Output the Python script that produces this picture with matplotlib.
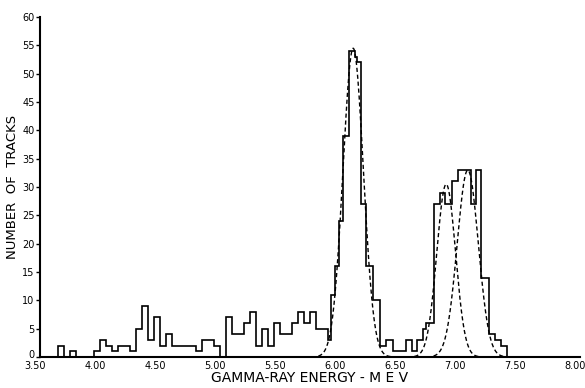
import numpy as np
import matplotlib
matplotlib.use("Agg")
import matplotlib.pyplot as plt
from matplotlib.transforms import ScaledTranslation

# histogram of gamma-ray energies (bin edges in MeV, counts per bin)
edges = [3.65, 3.70, 3.75, 3.80, 3.85, 3.90, 3.95, 4.00, 4.05, 4.10,
         4.15, 4.20, 4.25, 4.30, 4.35, 4.40, 4.45, 4.50, 4.55, 4.60,
         4.65, 4.70, 4.75, 4.80, 4.85, 4.90, 4.95, 5.00, 5.05, 5.10,
         5.15, 5.20, 5.25, 5.30, 5.35, 5.40, 5.45, 5.50, 5.55, 5.60,
         5.65, 5.70, 5.75, 5.80, 5.85, 5.90, 5.925, 5.96, 5.99, 6.025,
         6.075, 6.125, 6.14, 6.175, 6.22, 6.275, 6.33, 6.38, 6.44, 6.55,
         6.60, 6.64, 6.69, 6.72, 6.78, 6.83, 6.875, 6.93, 6.98, 7.09,
         7.13, 7.175, 7.24, 7.295, 7.345, 7.39]
counts = [2, 0, 1, 0, 0, 0, 1, 3, 2, 1,
          2, 2, 1, 5, 9, 3, 7, 2, 4, 2,
          2, 2, 2, 1, 3, 3, 2, 0, 7, 4,
          4, 6, 8, 2, 5, 2, 6, 4, 4, 6,
          8, 6, 8, 5, 5, 3, 11, 16, 24, 39,
          54, 53, 52, 27, 16, 10, 2, 3, 1, 3,
          1, 3, 5, 6, 27, 29, 27, 31, 33, 27,
          33, 14, 4, 3, 2]

# dashed gaussian fits: centre (MeV), height (tracks), width (MeV), x range
fit_centres = [6.11, 6.885, 7.065]
fit_heights = [54.5, 30.5, 33.0]
fit_sigmas = [0.085, 0.078, 0.088]
fit_lo = [5.82, 6.62, 6.78]
fit_hi = [6.48, 7.16, 7.37]

x_ticks = [3.5, 4.0, 4.5, 5.0, 5.5, 6.0, 6.5, 7.0, 7.5, 8.0]
x_tick_labels = ["3.50", "4.00", "4.50", "5.00", "5.50", "6.00", "6.50", "7.00", "7.50", "8.00"]
y_ticks = [0, 5, 10, 15, 20, 25, 30, 35, 40, 45, 50, 55, 60]

fig = plt.figure(figsize=(5.85, 3.88), dpi=100)
ax = fig.add_axes([0.0684, 0.0799, 0.923, 0.876])

ax.stairs(counts, edges, color="black", linewidth=1.2, baseline=0)

for c, h, s, lo, hi in zip(fit_centres, fit_heights, fit_sigmas, fit_lo, fit_hi):
    xx = np.linspace(lo, hi, 300)
    yy = h * np.exp(-0.5 * ((xx - c) / s) ** 2)
    ax.plot(xx, yy, color="black", linewidth=1.0, linestyle=(0, (3, 2)))

ax.set_xlim(3.5, 8.0)
ax.set_ylim(0, 60)
ax.set_xticks(x_ticks)
ax.set_xticklabels(x_tick_labels, fontsize=7)
ax.set_yticks(y_ticks)
ax.set_yticklabels([str(v) for v in y_ticks], fontsize=7)
ax.tick_params(axis="y", direction="out", length=3, width=1, pad=1)
ax.tick_params(axis="x", direction="out", length=0, pad=3)

# the old lettering sits a little left of each tick
shift = ScaledTranslation(-0.05, 0, fig.dpi_scale_trans)
for lbl in ax.get_xticklabels():
    lbl.set_transform(lbl.get_transform() + shift)
# lift the "0" clear of the "3.50" below it
zero_lbl = ax.get_yticklabels()[0]
zero_lbl.set_transform(zero_lbl.get_transform() + ScaledTranslation(0, 0.03, fig.dpi_scale_trans))

for side in ["top", "right"]:
    ax.spines[side].set_visible(False)
ax.spines["left"].set_linewidth(1.5)
ax.spines["bottom"].set_linewidth(1.5)

ax.set_xlabel("GAMMA-RAY ENERGY - M E V", fontsize=10, labelpad=0)
ax.set_ylabel("NUMBER  OF  TRACKS", fontsize=9.5, labelpad=2)

fig.savefig("out.png", dpi=100)
